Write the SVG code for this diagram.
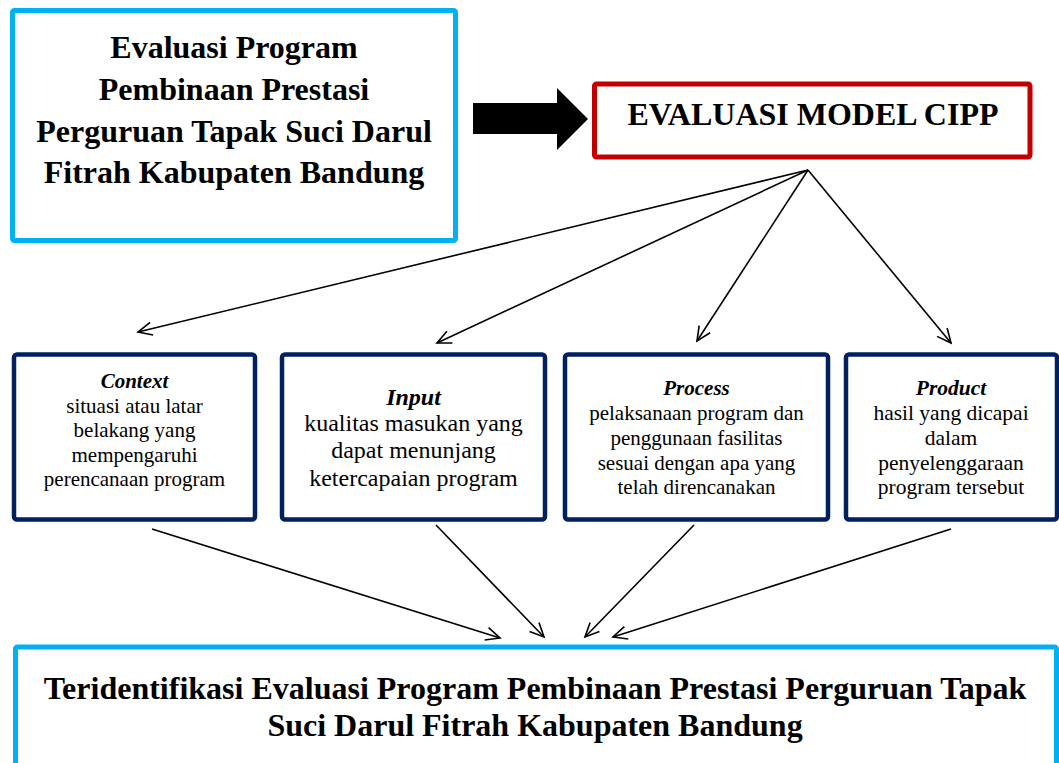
<svg xmlns="http://www.w3.org/2000/svg" width="1059" height="763" viewBox="0 0 1059 763">
<style>
.t{font-family:"Liberation Serif","Times New Roman",serif;fill:#000;text-anchor:middle}
.b{font-weight:bold}
.i{font-style:italic;font-weight:bold}
.cyan{fill:#fff;stroke:#00B0F0;stroke-width:5}
.navy{fill:#fff;stroke:#002060;stroke-width:4.5}
.con{stroke:#000;stroke-width:1.6;fill:none;marker-end:url(#ah)}
</style>
<defs>
<marker id="ah" markerWidth="18" markerHeight="16" refX="15" refY="8" orient="auto" markerUnits="userSpaceOnUse">
<path d="M1,1.5 L15,8 L1,14.5" fill="none" stroke="#000" stroke-width="1.6"/>
</marker>
</defs>
<rect width="1059" height="763" fill="#fff"/>
<g id="node-title">
<rect class="cyan" x="12.5" y="10.5" width="443" height="230" rx="2"/>
<text class="t b" font-size="32" x="234" y="58">Evaluasi Program</text>
<text class="t b" font-size="32" x="234" y="100">Pembinaan Prestasi</text>
<text class="t b" font-size="32" x="234" y="142">Perguruan Tapak Suci Darul</text>
<text class="t b" font-size="32" x="234" y="183">Fitrah Kabupaten Bandung</text>
</g>
<g id="node-block-arrow">
<polygon points="473,103 557,103 557,88 588,119 557,150 557,134 473,134" fill="#000"/>
</g>
<g id="node-cipp">
<rect x="594.5" y="84" width="435.5" height="73" fill="#fff" stroke="#C00000" stroke-width="5" rx="2"/>
<text class="t b" font-size="32" x="813" y="125">EVALUASI MODEL CIPP</text>
</g>
<g id="node-context">
<rect class="navy" x="14" y="354.5" width="241" height="165" rx="3"/>
<text class="t i" font-size="21" x="134.5" y="388">Context</text>
<text class="t" font-size="21" x="134.5" y="413">situasi atau latar</text>
<text class="t" font-size="21" x="134.5" y="437">belakang yang</text>
<text class="t" font-size="21" x="134.5" y="462">mempengaruhi</text>
<text class="t" font-size="21" x="134.5" y="486">perencanaan program</text>
</g>
<g id="node-input">
<rect class="navy" x="282" y="354.5" width="263" height="165" rx="3"/>
<text class="t i" font-size="24" x="413.5" y="405">Input</text>
<text class="t" font-size="24" x="413.5" y="431">kualitas masukan yang</text>
<text class="t" font-size="24" x="413.5" y="458">dapat menunjang</text>
<text class="t" font-size="24" x="413.5" y="486">ketercapaian program</text>
</g>
<g id="node-process">
<rect class="navy" x="565" y="354.5" width="263" height="165" rx="3"/>
<text class="t i" font-size="21" x="696.5" y="395">Process</text>
<text class="t" font-size="21" x="696.5" y="420">pelaksanaan program dan</text>
<text class="t" font-size="21" x="696.5" y="445">penggunaan fasilitas</text>
<text class="t" font-size="21" x="696.5" y="470">sesuai dengan apa yang</text>
<text class="t" font-size="21" x="696.5" y="494">telah direncanakan</text>
</g>
<g id="node-product">
<rect class="navy" x="846" y="354.5" width="211" height="165" rx="3"/>
<text class="t i" font-size="21.5" x="951" y="395">Product</text>
<text class="t" font-size="21.5" x="951" y="420">hasil yang dicapai</text>
<text class="t" font-size="21.5" x="951" y="445">dalam</text>
<text class="t" font-size="21.5" x="951" y="470">penyelenggaraan</text>
<text class="t" font-size="21.5" x="951" y="494">program tersebut</text>
</g>
<g id="node-result">
<rect class="cyan" x="15.5" y="647" width="1041" height="140" rx="2"/>
<text class="t b" font-size="32" x="535" y="699">Teridentifikasi Evaluasi Program Pembinaan Prestasi Perguruan Tapak</text>
<text class="t b" font-size="32" x="535" y="736">Suci Darul Fitrah Kabupaten Bandung</text>
</g>
<g id="connectors">
<line class="con" x1="808" y1="170" x2="138" y2="332"/>
<line class="con" x1="808" y1="170" x2="437" y2="343"/>
<line class="con" x1="808" y1="170" x2="697" y2="341"/>
<line class="con" x1="808" y1="170" x2="951" y2="343"/>
<line class="con" x1="152" y1="529" x2="500" y2="638"/>
<line class="con" x1="436" y1="525" x2="544" y2="637"/>
<line class="con" x1="694" y1="525" x2="585" y2="637"/>
<line class="con" x1="951" y1="529" x2="613" y2="637"/>
</g>
</svg>
